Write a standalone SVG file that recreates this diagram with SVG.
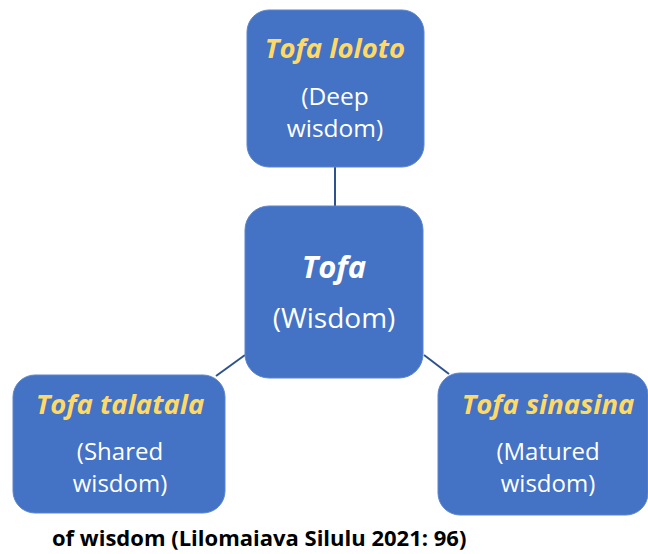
<svg xmlns="http://www.w3.org/2000/svg" width="648" height="554" viewBox="0 0 648 554">
<style>
.node{fill:#4472C4;stroke:#5B84CC;stroke-width:1}
.t{font-family:"Open Sans","Noto Sans",sans-serif;text-anchor:middle}
.h{font-weight:bold;font-style:italic;fill:#FFD966;font-size:27.5px}
.s{fill:#FFFFFF;font-size:24.5px}
.s2{fill:#FFFFFF;font-size:24px}
.cap{font-family:"Open Sans","Noto Sans",sans-serif;font-weight:bold;font-size:22px;fill:#000}
.c{stroke:#2F528F;stroke-width:2;fill:none}
</style>
<rect width="648" height="554" fill="#FFFFFF"/>
<g id="connectors">
<line class="c" x1="335" y1="167" x2="335" y2="206"/>
<line class="c" x1="245" y1="355" x2="216" y2="376"/>
<line class="c" x1="424" y1="355" x2="449" y2="374"/>
</g>
<g id="node-top">
<rect class="node" x="247" y="10" width="177" height="157" rx="22"/>
<text class="t h" x="335" y="58">Tofa loloto</text>
<text class="t s" x="335" y="105">(Deep</text>
<text class="t s" x="335" y="137">wisdom)</text>
</g>
<g id="node-center">
<rect class="node" x="245" y="206" width="178" height="172" rx="24"/>
<text class="t h" x="334" y="278" style="fill:#FFFFFF;font-size:31px">Tofa</text>
<text class="t s" x="334" y="328" style="font-size:28px">(Wisdom)</text>
</g>
<g id="node-left">
<rect class="node" x="13" y="375" width="212" height="138" rx="22"/>
<text class="t h" x="120" y="414">Tofa talatala</text>
<text class="t s2" x="120" y="460">(Shared</text>
<text class="t s2" x="120" y="492">wisdom)</text>
</g>
<g id="node-right">
<rect class="node" x="438" y="373" width="210" height="142" rx="22"/>
<text class="t h" x="548" y="414">Tofa sinasina</text>
<text class="t s2" x="548" y="460">(Matured</text>
<text class="t s2" x="548" y="492">wisdom)</text>
</g>
<text class="cap" x="52" y="546">of wisdom (Lilomaiava Silulu 2021: 96)</text>
</svg>
